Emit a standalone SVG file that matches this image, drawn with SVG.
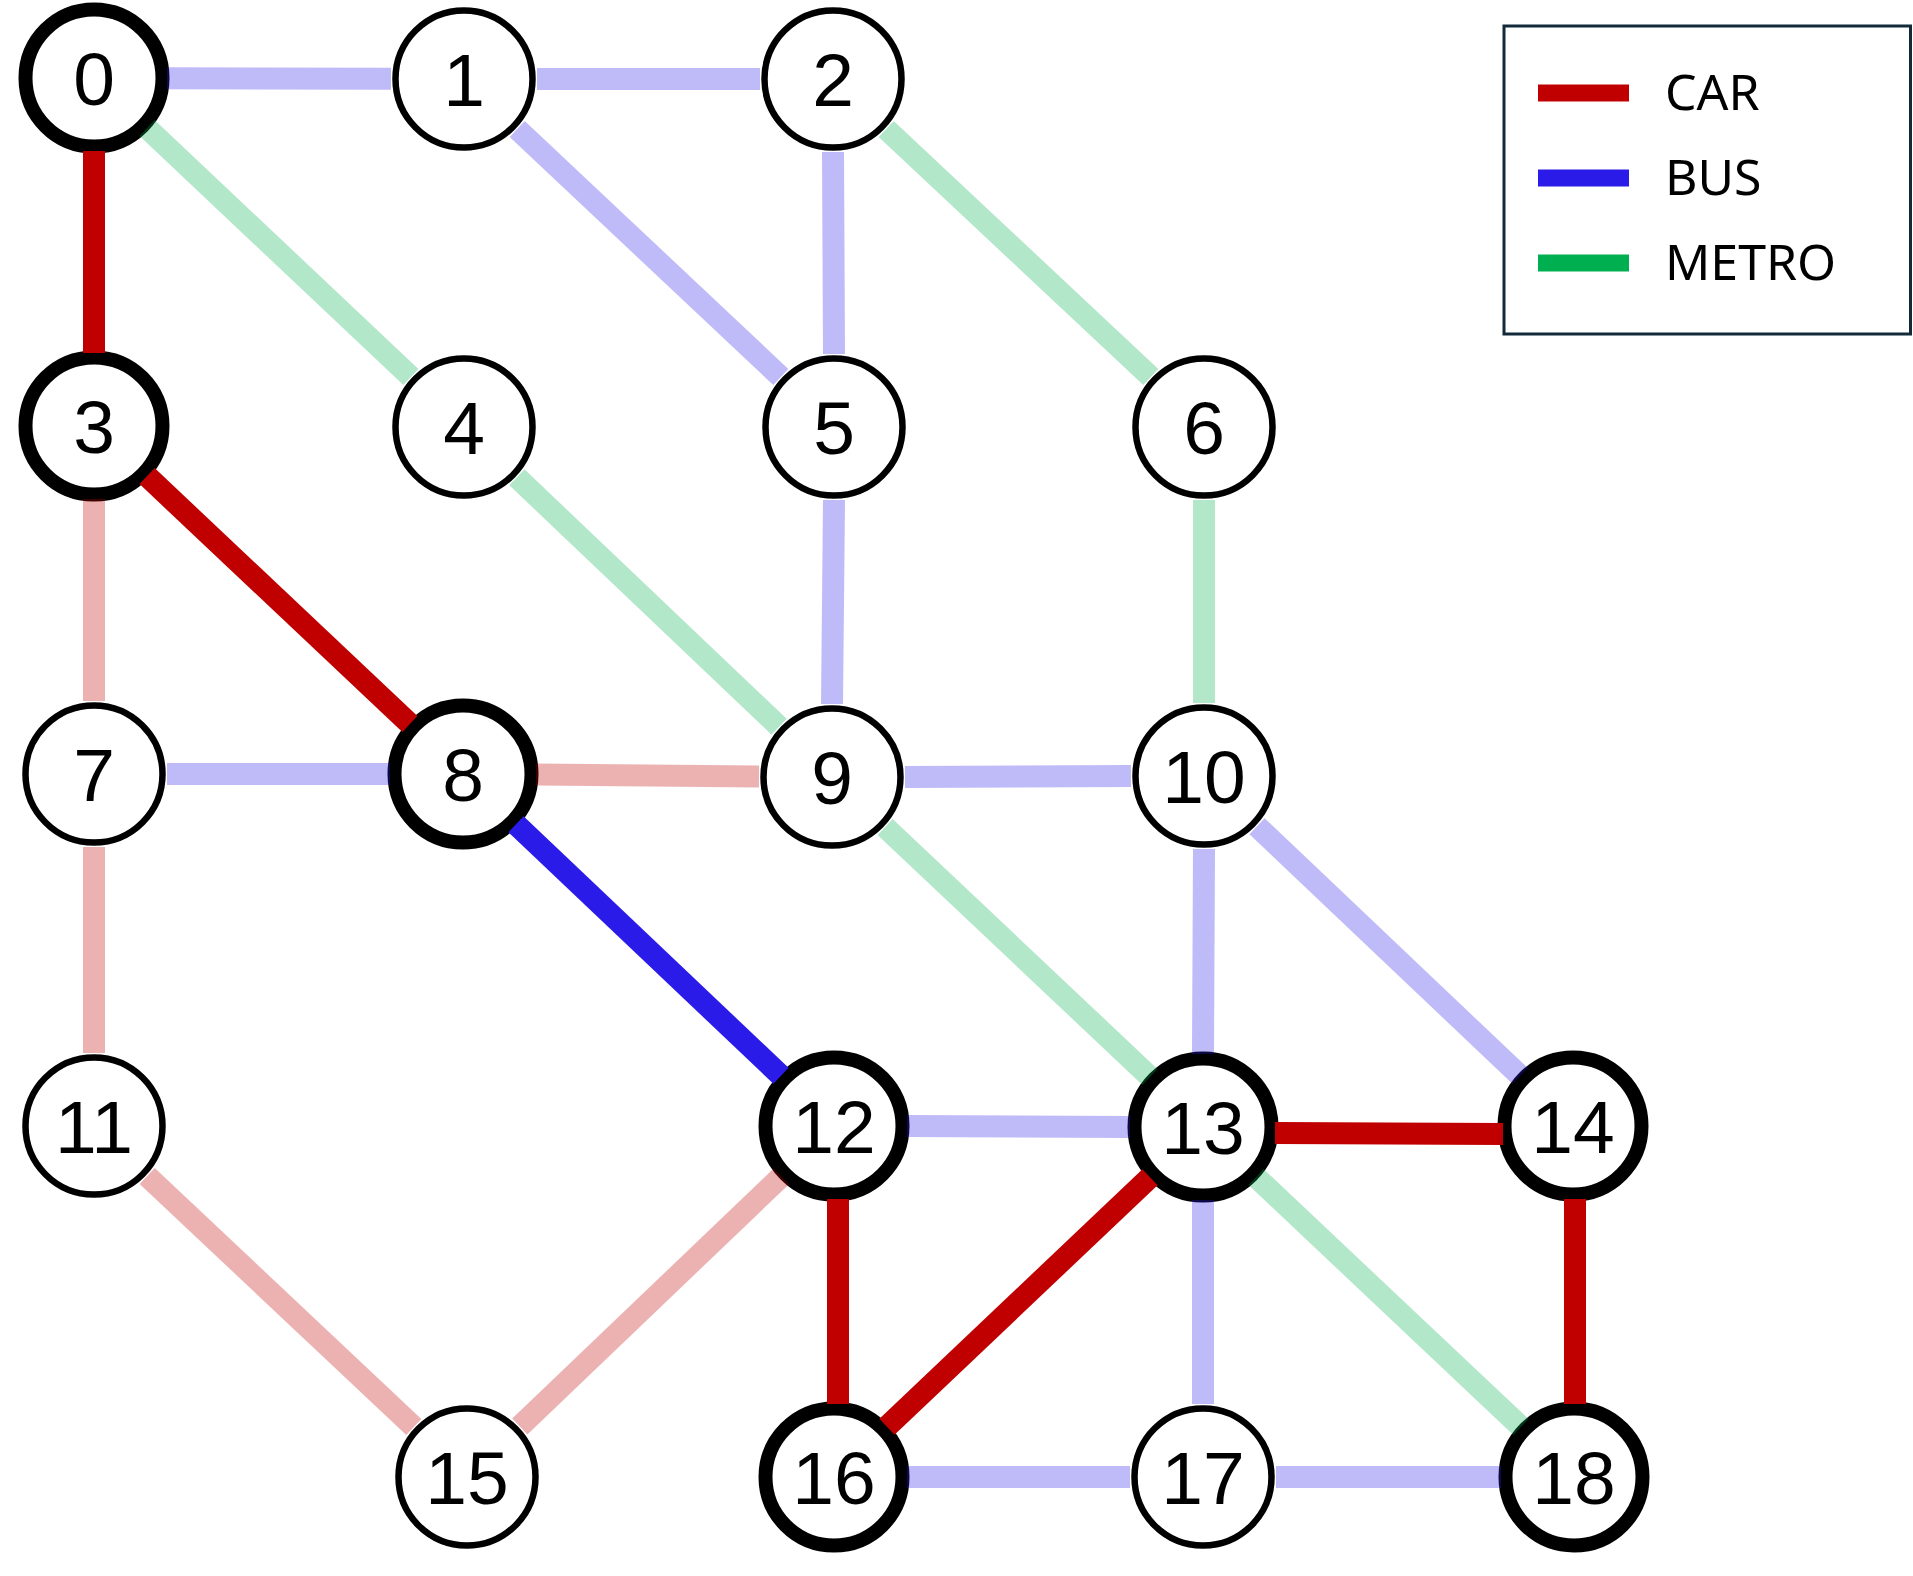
<svg xmlns="http://www.w3.org/2000/svg" width="1913" height="1576" viewBox="0 0 1913 1576">
<style>
.node circle{fill:#ffffff;stroke:#000000}
.thin circle{stroke-width:6.5}
.thick circle{stroke-width:14}
.node text{font-family:"Liberation Sans",Arial,sans-serif;font-size:75px;text-anchor:middle;fill:#000000}
#edges line{stroke-width:22;stroke-linecap:butt;fill:none}
.car{stroke:#c00000}
.bus{stroke:#2a1be8}
.metro{stroke:#00b050}
.faded{stroke-opacity:0.3}
.legtext{font-family:"Noto Sans","Liberation Sans",sans-serif;font-size:50px;fill:#000000}
</style>
<rect x="0" y="0" width="1913" height="1576" fill="#ffffff"/>
<g id="nodes">
<g id="node-0" class="node thick"><circle cx="94" cy="78" r="68.5"/><text x="94" y="105">0</text></g>
<g id="node-1" class="node thin"><circle cx="464" cy="79" r="68.5"/><text x="464" y="106">1</text></g>
<g id="node-2" class="node thin"><circle cx="833" cy="79" r="68.5"/><text x="833" y="106">2</text></g>
<g id="node-3" class="node thick"><circle cx="94" cy="426" r="68.5"/><text x="94" y="453">3</text></g>
<g id="node-4" class="node thin"><circle cx="464" cy="427" r="68.5"/><text x="464" y="454">4</text></g>
<g id="node-5" class="node thin"><circle cx="834" cy="427" r="68.5"/><text x="834" y="454">5</text></g>
<g id="node-6" class="node thin"><circle cx="1204" cy="427" r="68.5"/><text x="1204" y="454">6</text></g>
<g id="node-7" class="node thin"><circle cx="94" cy="774" r="68.5"/><text x="94" y="801">7</text></g>
<g id="node-8" class="node thick"><circle cx="463" cy="774" r="68.5"/><text x="463" y="801">8</text></g>
<g id="node-9" class="node thin"><circle cx="832" cy="777" r="68.5"/><text x="832" y="804">9</text></g>
<g id="node-10" class="node thin"><circle cx="1204" cy="776" r="68.5"/><text x="1204" y="803">10</text></g>
<g id="node-11" class="node thin"><circle cx="94" cy="1126" r="68.5"/><text x="94" y="1153">11</text></g>
<g id="node-12" class="node thick"><circle cx="834" cy="1126" r="68.5"/><text x="834" y="1153">12</text></g>
<g id="node-13" class="node thick"><circle cx="1203" cy="1127" r="68.5"/><text x="1203" y="1154">13</text></g>
<g id="node-14" class="node thick"><circle cx="1573" cy="1126" r="68.5"/><text x="1573" y="1153">14</text></g>
<g id="node-15" class="node thin"><circle cx="467" cy="1477" r="68.5"/><text x="467" y="1504">15</text></g>
<g id="node-16" class="node thick"><circle cx="834" cy="1477" r="68.5"/><text x="834" y="1504">16</text></g>
<g id="node-17" class="node thin"><circle cx="1203" cy="1477" r="68.5"/><text x="1203" y="1504">17</text></g>
<g id="node-18" class="node thick"><circle cx="1574" cy="1477" r="68.5"/><text x="1574" y="1504">18</text></g>
</g>
<g id="edges">
<line class="bus faded" x1="167" y1="78.2" x2="391" y2="78.8"/>
<line class="bus faded" x1="537" y1="79" x2="760" y2="79"/>
<line class="bus faded" x1="517.2" y1="129" x2="780.8" y2="377"/>
<line class="bus faded" x1="833" y1="152" x2="834" y2="354"/>
<line class="bus faded" x1="834" y1="500" x2="832" y2="704"/>
<line class="bus faded" x1="167" y1="774" x2="390" y2="774"/>
<line class="bus faded" x1="905" y1="777" x2="1131" y2="776"/>
<line class="bus faded" x1="1204" y1="849" x2="1203" y2="1054"/>
<line class="bus faded" x1="1257" y1="826.2" x2="1520" y2="1075.8"/>
<line class="bus faded" x1="907" y1="1126" x2="1130" y2="1127"/>
<line class="bus faded" x1="1203" y1="1200" x2="1203" y2="1404"/>
<line class="bus faded" x1="907" y1="1477" x2="1130" y2="1477"/>
<line class="bus faded" x1="1276" y1="1477" x2="1501" y2="1477"/>
<line class="metro faded" x1="147.1" y1="128.1" x2="410.9" y2="376.9"/>
<line class="metro faded" x1="886.2" y1="128.9" x2="1150.8" y2="377.1"/>
<line class="metro faded" x1="516.9" y1="477.3" x2="779.1" y2="726.7"/>
<line class="metro faded" x1="1204" y1="500" x2="1204" y2="703"/>
<line class="metro faded" x1="885.1" y1="827.1" x2="1149.9" y2="1076.9"/>
<line class="metro faded" x1="1256.1" y1="1177.1" x2="1520.9" y2="1426.9"/>
<line class="car faded" x1="94" y1="499" x2="94" y2="701"/>
<line class="car faded" x1="94" y1="847" x2="94" y2="1053"/>
<line class="car faded" x1="536" y1="774.6" x2="759" y2="776.4"/>
<line class="car faded" x1="147.2" y1="1176" x2="413.8" y2="1427"/>
<line class="car faded" x1="519.8" y1="1426.5" x2="781.2" y2="1176.5"/>
<line class="car" x1="94" y1="151" x2="94" y2="353"/>
<line class="car" x1="147.1" y1="476.1" x2="409.9" y2="723.9"/>
<line class="car" x1="838" y1="1199" x2="838" y2="1404"/>
<line class="car" x1="1150" y1="1177.2" x2="887" y2="1426.8"/>
<line class="car" x1="1275" y1="1133" x2="1503" y2="1134"/>
<line class="car" x1="1575" y1="1199" x2="1575" y2="1404"/>
<line class="bus" x1="516" y1="824.2" x2="781" y2="1075.8"/>
</g>
<g id="legend">
<rect x="1504" y="26" width="406.5" height="308" fill="#ffffff" stroke="#132a3a" stroke-width="3"/>
<rect x="1538" y="84.5" width="91" height="17" fill="#c00000"/>
<rect x="1538" y="169.5" width="91" height="17" fill="#2a1be8"/>
<rect x="1538" y="254.5" width="91" height="17" fill="#00b050"/>
<text class="legtext" x="1665" y="110">CAR</text>
<text class="legtext" x="1665" y="195">BUS</text>
<text class="legtext" x="1665" y="280">METRO</text>
</g>
</svg>
